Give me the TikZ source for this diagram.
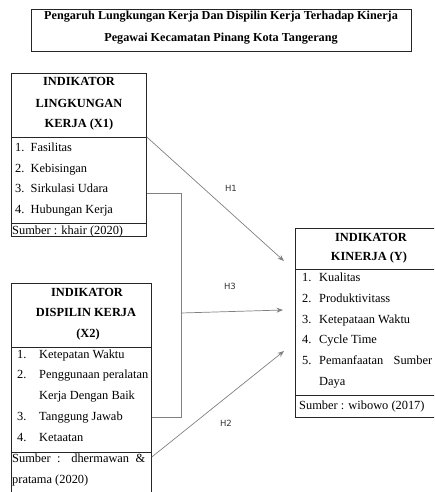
\documentclass[tikz,border=0pt]{standalone}
\usepackage{fontspec}
\setmainfont{Liberation Serif}
\newfontfamily\hfont{DejaVu Sans}
\usetikzlibrary{arrows.meta}
\tikzset{
  boxa/.style={draw=black!85, line width=0.8pt, anchor=north west, inner sep=0pt},
  divline/.style={draw=black!85, line width=0.8pt},
  txt/.style={inner sep=0pt, anchor=base west, font=\fontsize{12.4}{14}\selectfont},
  hd/.style={inner sep=0pt, anchor=base, font=\fontsize{12.4}{14}\selectfont\bfseries},
  ttl/.style={inner sep=0pt, anchor=base, font=\fontsize{12.2}{14}\selectfont\bfseries},
  conn/.style={draw=black!50, line width=0.7pt},
  arr/.style={conn, -{Stealth[length=6.5pt,width=5pt]}},
  hlab/.style={inner sep=0pt, text=black!80, font=\hfont\fontsize{8.5}{10}\selectfont}
}
\begin{document}
\begin{tikzpicture}[x=1pt,y=-1pt]
\useasboundingbox (0,0) rectangle (434,492);
\clip (0,0) rectangle (434,492);
% title
\node[boxa, minimum width=380pt, minimum height=42pt] (tbox) at (31,9) {};
\node[ttl] (t1) at (221,20) {Pengaruh Lungkungan Kerja Dan Dispilin Kerja Terhadap Kinerja};
\node[ttl] (t2) at (221,42) {Pegawai Kecamatan Pinang Kota Tangerang};
% X1
\node[boxa, minimum width=135pt, minimum height=163pt] (x1) at (11,73) {};
\draw[divline] (x1.west |- 0,137) -- (x1.east |- 0,137);
\draw[divline] (x1.west |- 0,223) -- (x1.east |- 0,223);
\node[hd] (x1h1) at (79,86) {INDIKATOR};
\node[hd] (x1h2) at (79,107) {LINGKUNGAN};
\node[hd] (x1h3) at (79,128) {KERJA (X1)};
\node[txt] (x1i1) at (15,151) {1.\ \ Fasilitas};
\node[txt] (x1i2) at (15,172) {2.\ \ Kebisingan};
\node[txt] (x1i3) at (15,192) {3.\ \ Sirkulasi Udara};
\node[txt] (x1i4) at (15,213) {4.\ \ Hubungan Kerja};
\node[txt] (x1s) at (12,234) {Sumber : khair (2020)};
% X2
\node[boxa, minimum width=140pt, minimum height=220pt] (x2) at (11,283) {};
\draw[divline] (x2.west |- 0,347) -- (x2.east |- 0,347);
\draw[divline] (x2.west |- 0,452) -- (x2.east |- 0,452);
\node[hd] (x2h1) at (87,296) {INDIKATOR};
\node[hd] (x2h2) at (86,316) {DISPILIN KERJA};
\node[hd] (x2h3) at (88,337) {(X2)};
\node[txt] (x2n1) at (17,358) {1.};
\node[txt] (x2i1) at (39,358) {Ketepatan Waktu};
\node[txt] (x2n2) at (17,378) {2.};
\node[txt] (x2i2) at (39,378) {Penggunaan peralatan};
\node[txt] (x2i2b) at (39,399) {Kerja Dengan Baik};
\node[txt] (x2n3) at (17,420) {3.};
\node[txt] (x2i3) at (39,420) {Tanggung Jawab};
\node[txt] (x2n4) at (17,441) {4.};
\node[txt] (x2i4) at (39,441) {Ketaatan};
\node[txt] (x2s1) at (12,462) {\makebox[133pt][s]{Sumber : dhermawan \&}};
\node[txt] (x2s2) at (12,483) {pratama (2020)};
% Y
\node[boxa, minimum width=150pt, minimum height=189pt] (y) at (295,228) {};
\draw[divline] (y.west |- 0,269) -- (y.east |- 0,269);
\draw[divline] (y.west |- 0,395) -- (y.east |- 0,395);
\node[hd] (yh1) at (371,241) {INDIKATOR};
\node[hd] (yh2) at (369,260) {KINERJA (Y)};
\node[txt] (yn1) at (302,281) {1.};
\node[txt] (yi1) at (319,281) {Kualitas};
\node[txt] (yn2) at (302,302) {2.};
\node[txt] (yi2) at (319,302) {Produktivitass};
\node[txt] (yn3) at (302,323) {3.};
\node[txt] (yi3) at (319,323) {Ketepataan Waktu};
\node[txt] (yn4) at (302,343) {4.};
\node[txt] (yi4) at (319,343) {Cycle Time};
\node[txt] (yn5) at (302,364) {5.};
\node[txt] (yi5) at (319,364) {\makebox[113pt][s]{Pemanfaatan Sumber}};
\node[txt] (yi5b) at (319,385) {Daya};
\node[txt] (ys) at (299,409) {Sumber : wibowo (2017)};
% connectors
\coordinate (e1) at (284,261);
\coordinate (e3) at (283,310);
\coordinate (e2) at (284,351);
\coordinate (jt) at (181,193);
\coordinate (jb) at (181,417);
\coordinate (jm) at (181,313);
\draw[arr] (x1.east |- 0,137) -- (e1);
\draw[conn] (x1.east |- 0,193) -- (jt) -- (jb) -- (x2.east |- 0,417);
\draw[arr] (jm) -- (e3);
\draw[arr] (x2.east |- 0,457) -- (e2);
\node[hlab] (h1) at (231,188) {H1};
\node[hlab] (h3) at (230,286) {H3};
\node[hlab] (h2) at (226,423) {H2};
\end{tikzpicture}
\end{document}
